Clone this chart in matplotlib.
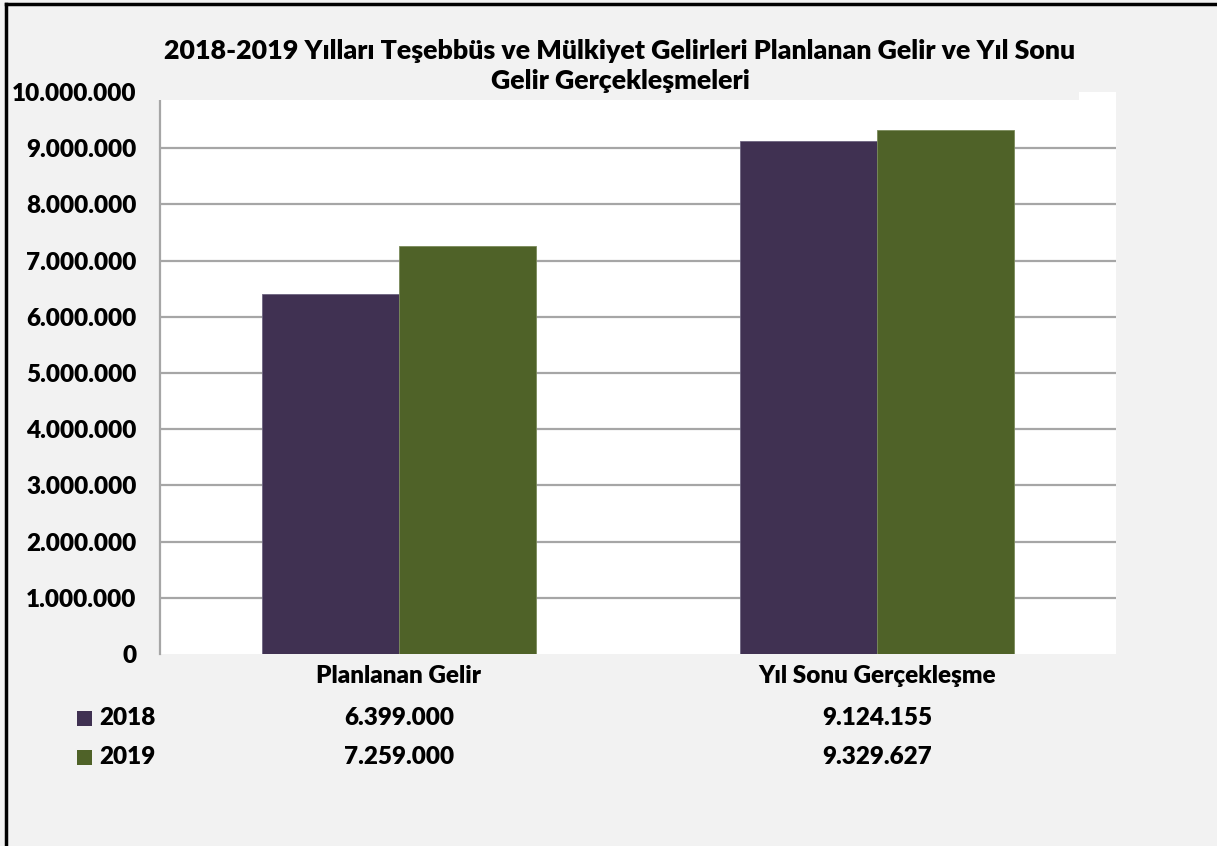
import matplotlib
matplotlib.use("Agg")
import matplotlib.pyplot as plt
from matplotlib.patches import Rectangle
from matplotlib.lines import Line2D
import matplotlib.transforms as mtransforms
import numpy as np

categories = ["Planlanan Gelir", "Yıl Sonu Gerçekleşme"]
series_names = ["2018", "2019"]
values_2018 = [6399000, 9124155]
values_2019 = [7259000, 9329627]
yticks = [0, 1000000, 2000000, 3000000, 4000000, 5000000, 6000000, 7000000, 8000000, 9000000, 10000000]
title = "2018-2019 Yılları Teşebbüs ve Mülkiyet Gelirleri Planlanan Gelir ve Yıl Sonu\nGelir Gerçekleşmeleri"

colors = ["#403152", "#4f6228"]
BG = "#f2f2f2"
FONT = "Lato"
FS = 17.5

W, H = 1217, 846
fig = plt.figure(figsize=(W / 100, H / 100), dpi=100, facecolor=BG)

def fx(px):
    return px / W

def fy(py):
    return 1 - py / H

ax_l, ax_r, ax_t, ax_b = 160, 1116, 92, 654
ax = fig.add_axes([fx(ax_l), fy(ax_b), fx(ax_r - ax_l), (ax_b - ax_t) / H])
ax.set_facecolor("white")

fmt = lambda v: f"{v:,}".replace(",", ".")

x = np.arange(len(categories))
bw = 0.287
ax.bar(x - bw / 2, values_2018, bw, color=colors[0], edgecolor="#6d6480", linewidth=0.6, zorder=3)
ax.bar(x + bw / 2, values_2019, bw, color=colors[1], edgecolor="#7a8a5a", linewidth=0.6, zorder=3)

ax.set_xlim(-0.5, 1.5)
ax.set_ylim(0, 10000000)
ax.set_yticks(yticks)
ax.set_yticklabels([fmt(v) for v in yticks], fontfamily=FONT, fontweight="heavy", fontsize=FS)
ax.tick_params(axis="y", length=0, pad=17)
ax.set_xticks([])
ax.grid(axis="y", color="#a6a6a6", linewidth=1.6, zorder=0)
ticks = ax.yaxis.get_major_ticks()
ticks[0].gridline.set_visible(False)
ticks[-1].gridline.set_visible(False)
for s in ["top", "right", "bottom"]:
    ax.spines[s].set_visible(False)
ax.spines["left"].set_color("#a6a6a6")
ax.spines["left"].set_linewidth(1.6)

# title box overlapping plot top
fig.patches.append(Rectangle((fx(ax_l - 2), fy(100)), fx(1079 - ax_l + 2), (100 - 85) / H,
                             transform=fig.transFigure, facecolor=BG, edgecolor="none", zorder=5))
fig.text(fx(620), fy(66), title, ha="center", va="center", fontfamily=FONT, fontweight="heavy",
         fontsize=19.3, linespacing=1.33, zorder=6)

# data table under the axis
blend = mtransforms.blended_transform_factory(ax.transData, fig.transFigure)
row_y = [718, 757]
for i, c in enumerate(categories):
    ax.text(x[i], fy(676), c, transform=blend, ha="center", va="center", fontfamily=FONT,
            fontweight="heavy", fontsize=FS, clip_on=False)
for j, vals in enumerate([values_2018, values_2019]):
    for i in range(len(categories)):
        ax.text(x[i], fy(row_y[j]), fmt(vals[i]), transform=blend, ha="center", va="center",
                fontfamily=FONT, fontweight="heavy", fontsize=FS, clip_on=False)
    fig.patches.append(Rectangle((fx(77), fy(row_y[j] + 8)), fx(15), 15 / H,
                                 transform=fig.transFigure, facecolor=colors[j], edgecolor="none"))
    fig.text(fx(99), fy(row_y[j]), series_names[j], ha="left", va="center", fontfamily=FONT,
             fontweight="heavy", fontsize=FS)

# border (left and top)
fig.add_artist(Line2D([fx(6), fx(6)], [0, fy(4)], transform=fig.transFigure, color="black", linewidth=2.5))
fig.add_artist(Line2D([fx(6), 1], [fy(4), fy(4)], transform=fig.transFigure, color="black", linewidth=2.5))

fig.savefig("out.png", dpi=100, facecolor=BG)
